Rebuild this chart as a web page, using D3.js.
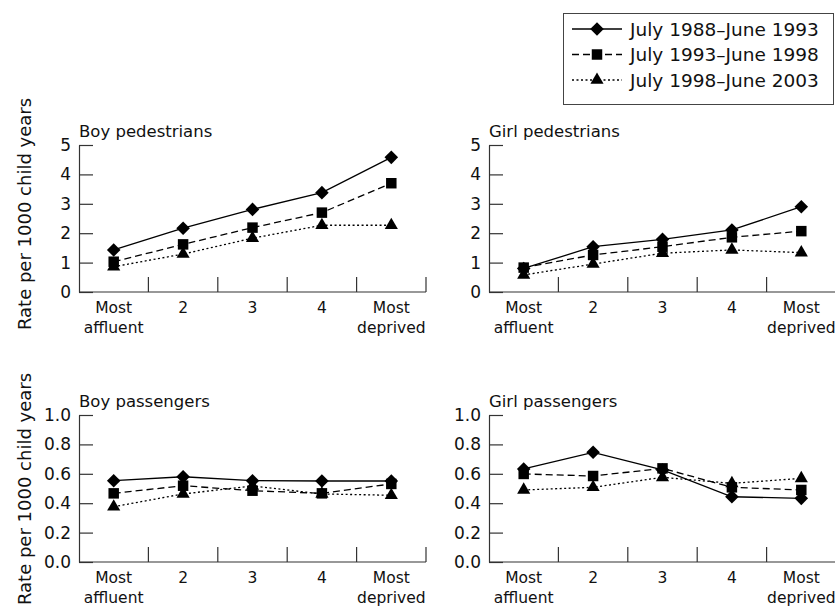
<!DOCTYPE html>
<html>
<head>
<meta charset="utf-8">
<script src="https://cdn.jsdelivr.net/npm/d3@7"></script>
<style>
  body { margin: 0; background: #fff; }
  svg text { font-family: "DejaVu Sans", "Open Sans", sans-serif; fill: #111; }
</style>
</head>
<body>
<svg id="chart" width="835" height="606"></svg>
<script>
// deprivation quintiles
const categories = ["Most affluent", "2", "3", "4", "Most deprived"];

const periods = ["July 1988\u2013June 1993", "July 1993\u2013June 1998", "July 1998\u2013June 2003"];

// rates per 1000 child years, one array per period
const boyPed1 = [1.43, 2.17, 2.81, 3.38, 4.58];
const boyPed2 = [1.03, 1.62, 2.19, 2.70, 3.70];
const boyPed3 = [0.86, 1.29, 1.83, 2.27, 2.27];

const girlPed1 = [0.80, 1.54, 1.79, 2.11, 2.90];
const girlPed2 = [0.83, 1.26, 1.54, 1.86, 2.07];
const girlPed3 = [0.58, 0.95, 1.32, 1.43, 1.34];

const boyPass1 = [0.553, 0.580, 0.553, 0.551, 0.551];
const boyPass2 = [0.467, 0.519, 0.485, 0.467, 0.531];
const boyPass3 = [0.376, 0.463, 0.517, 0.463, 0.454];

const girlPass1 = [0.633, 0.746, 0.626, 0.444, 0.433];
const girlPass2 = [0.599, 0.585, 0.637, 0.508, 0.490];
const girlPass3 = [0.490, 0.508, 0.576, 0.535, 0.569];

const pedTicks = [0, 1, 2, 3, 4, 5];
const passTicks = [0, 0.2, 0.4, 0.6, 0.8, 1.0];

const svg = d3.select("#chart");

const styles = [
    { dash: null, symbol: "diamond" },
    { dash: "7,4", symbol: "square" },
    { dash: "2,2.5", symbol: "triangle" }
];

function marker(sel, kind) {
    if (kind === "diamond") {
        sel.attr("d", d3.symbol().type(d3.symbolSquare).size(92)())
            .attr("transform", function() { return d3.select(this).attr("transform") + " rotate(45)"; });
    } else if (kind === "square") {
        sel.attr("d", d3.symbol().type(d3.symbolSquare).size(110)());
    } else {
        sel.attr("d", d3.symbol().type(d3.symbolTriangle).size(75)());
    }
}

function panel(opts) {
    const x = d3.scaleBand().domain(categories).range([opts.left, opts.left + 347]);
    const y = d3.scaleLinear().domain([0, opts.max]).range([opts.bottom, opts.bottom - 147]);

    const g = svg.append("g");

    // y axis, ticks pointing inward
    g.append("g")
        .attr("transform", `translate(${opts.left},0)`)
        .call(d3.axisLeft(y)
            .tickValues(opts.ticks)
            .tickSizeInner(-14)
            .tickSizeOuter(0)
            .tickPadding(8)
            .tickFormat(opts.fmt))
        .call(a => a.selectAll("line, path").attr("stroke", "#333").attr("stroke-width", 1.2))
        .call(a => a.selectAll("text").style("font-size", "17px").attr("fill", "#111"));

    // x axis: line with upward ticks at band edges
    g.append("line")
        .attr("x1", opts.left).attr("x2", x.range()[1])
        .attr("y1", opts.bottom).attr("y2", opts.bottom)
        .attr("stroke", "#333").attr("stroke-width", 1.2);

    g.selectAll(".xtick")
        .data(categories.slice(1).map(c => x(c)).concat([x.range()[1]]))
        .enter().append("line")
        .attr("x1", d => d).attr("x2", d => d)
        .attr("y1", opts.bottom).attr("y2", opts.bottom - 15)
        .attr("stroke", "#333").attr("stroke-width", 1.2);

    const labels = g.selectAll(".xlab")
        .data(categories)
        .enter().append("text")
        .attr("text-anchor", "middle")
        .attr("x", d => x(d) + x.bandwidth() / 2)
        .attr("y", opts.bottom + 21)
        .style("font-size", "15.5px");
    labels.each(function(d) {
        const words = d.startsWith("Most") ? ["Most", d.slice(5)] : [d];
        const t = d3.select(this);
        words.forEach((w, i) => {
            t.append("tspan")
                .attr("x", x(d) + x.bandwidth() / 2)
                .attr("dy", i === 0 ? 0 : 19.5)
                .text(w);
        });
    });

    g.append("text")
        .attr("x", opts.left)
        .attr("y", opts.bottom - 155)
        .style("font-size", "16.5px")
        .text(opts.title);

    opts.series.forEach((vals, i) => {
        const line = d3.line()
            .x((d, j) => x(categories[j]) + x.bandwidth() / 2)
            .y(d => y(d));
        g.append("path")
            .datum(vals)
            .attr("fill", "none")
            .attr("stroke", "#000")
            .attr("stroke-width", 1.3)
            .attr("stroke-dasharray", styles[i].dash)
            .attr("d", line);
    });

    opts.series.forEach((vals, i) => {
        g.selectAll(".m" + i)
            .data(vals)
            .enter().append("path")
            .attr("fill", "#000")
            .attr("transform", (d, j) => `translate(${x(categories[j]) + x.bandwidth() / 2},${y(d)})`)
            .call(marker, styles[i].symbol);
    });
}

const fmt0 = d3.format("d");
const fmt1 = d3.format(".1f");

panel({ left: 79, bottom: 292, max: 5, ticks: pedTicks, fmt: fmt0, title: "Boy pedestrians",
    series: [boyPed1, boyPed2, boyPed3] });
panel({ left: 489, bottom: 292, max: 5, ticks: pedTicks, fmt: fmt0, title: "Girl pedestrians",
    series: [girlPed1, girlPed2, girlPed3] });
panel({ left: 79, bottom: 562, max: 1, ticks: passTicks, fmt: fmt1, title: "Boy passengers",
    series: [boyPass1, boyPass2, boyPass3] });
panel({ left: 489, bottom: 562, max: 1, ticks: passTicks, fmt: fmt1, title: "Girl passengers",
    series: [girlPass1, girlPass2, girlPass3] });

// y axis titles
[214, 489].forEach(cy => {
    svg.append("text")
        .attr("transform", `translate(31,${cy}) rotate(-90)`)
        .attr("text-anchor", "middle")
        .style("font-size", "18px")
        .text("Rate per 1000 child years");
});

// legend
const legend = svg.append("g");
legend.append("rect")
    .attr("x", 563.5).attr("y", 13.5)
    .attr("width", 270).attr("height", 91)
    .attr("fill", "none").attr("stroke", "#444").attr("stroke-width", 1);

periods.forEach((p, i) => {
    const cy = 29 + i * 25.5;
    legend.append("line")
        .attr("x1", 572).attr("x2", 622)
        .attr("y1", cy).attr("y2", cy)
        .attr("stroke", "#000").attr("stroke-width", 1.3)
        .attr("stroke-dasharray", styles[i].dash);
    legend.append("path")
        .attr("fill", "#000")
        .attr("transform", `translate(597,${cy})`)
        .call(marker, styles[i].symbol);
    legend.append("text")
        .attr("x", 630).attr("y", cy + 6.5)
        .style("font-size", "18.5px")
        .text(p);
});
</script>
</body>
</html>
